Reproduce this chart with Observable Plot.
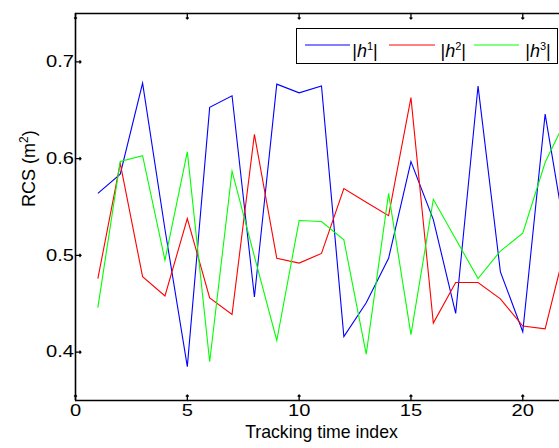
<!DOCTYPE html>
<html>
<head>
<meta charset="utf-8">
<script src="https://cdn.jsdelivr.net/npm/d3@7"></script>
<script src="https://cdn.jsdelivr.net/npm/@observablehq/plot@0.6"></script>
<style>
  html, body { margin: 0; padding: 0; background: #fff; overflow: hidden; width: 559px; height: 448px; }
  #wrap { position: relative; width: 559px; height: 448px; overflow: hidden; }
  #wrap svg { position: absolute; left: 0; top: 0; }
  .legend { position: absolute; left: 295.5px; top: 28px; width: 262px; height: 35.5px; box-sizing: border-box;
            border: 1.5px solid #000; background: #fff; font-family: "Liberation Sans", Arial, sans-serif; font-size: 18px; color: #000; }
  .legend .ln { position: absolute; top: 15.2px; height: 2px; }
  .legend .lb { position: absolute; top: 13.4px; line-height: 18px; white-space: nowrap; }
  .legend .lb sup { font-size: 11px; vertical-align: 7px; line-height: 0; }
</style>
</head>
<body>
<div id="wrap"></div>
<script>
// ---- data ----
const trackIndex = [1, 2, 3, 4, 5, 6, 7, 8, 9, 10, 11, 12, 13, 14, 15, 16, 17, 18, 19, 20, 21, 22];
const h1 = [0.564, 0.584, 0.678, 0.527, 0.385, 0.653, 0.665, 0.457, 0.677, 0.668, 0.675, 0.416, 0.451, 0.497, 0.597, 0.537, 0.440, 0.675, 0.483, 0.421, 0.646, 0.508];
const h2 = [0.476, 0.595, 0.478, 0.458, 0.538, 0.456, 0.439, 0.625, 0.497, 0.492, 0.502, 0.569, 0.555, 0.541, 0.663, 0.430, 0.472, 0.472, 0.455, 0.427, 0.424, 0.517];
const h3 = [0.446, 0.597, 0.603, 0.495, 0.607, 0.390, 0.587, 0.499, 0.412, 0.536, 0.535, 0.516, 0.398, 0.564, 0.418, 0.558, 0.517, 0.476, 0.5045, 0.523, 0.596, 0.644];
const seriesNames = ["h1", "h2", "h3"];
const seriesColors = ["#0000ff", "#ff0000", "#00ff00"];
const xTicks = [0, 5, 10, 15, 20];
const yTicks = [0.4, 0.5, 0.6, 0.7];
const yTickLabels = ["0.4", "0.5", "0.6", "0.7"];
const xLabel = "Tracking time index";
const yLabel = "RCS (m2)";

const seriesValues = [h1, h2, h3];
const lineMarks = seriesValues.map((vals, k) =>
  Plot.line(trackIndex.map((t, i) => ({t, v: vals[i]})), {
    x: "t", y: "v", stroke: seriesColors[k], strokeWidth: 1.1,
    strokeLinejoin: "miter", strokeMiterlimit: 6, strokeLinecap: "butt"
  })
);

const chart = Plot.plot({
  width: 610, height: 448,
  marginLeft: 75, marginRight: 43, marginTop: 13, marginBottom: 48,
  style: "max-width:none;background:white;font-family:'Liberation Sans',Arial,sans-serif;overflow:hidden;",
  x: {domain: [0, 22], axis: null},
  y: {domain: [0.35, 0.75], axis: null},
  marks: [
    ...lineMarks,
    Plot.ruleY([0.35, 0.75], {stroke: "#000", strokeWidth: 1.6}),
    Plot.ruleX([0], {stroke: "#000", strokeWidth: 1.6}),
    Plot.vector(xTicks, {x: d => d, y: () => 0.35, rotate: 0, length: 5.5, anchor: "start", stroke: "#000", strokeWidth: 1.3}),
    Plot.vector(xTicks, {x: d => d, y: () => 0.75, rotate: 180, length: 5.5, anchor: "start", stroke: "#000", strokeWidth: 1.3}),
    Plot.vector(yTicks, {x: () => 0, y: d => d, rotate: 90, length: 5.5, anchor: "start", stroke: "#000", strokeWidth: 1.3}),
    Plot.text(xTicks, {x: d => d, text: d => String(d), frameAnchor: "bottom", dy: 15, fontSize: 16.5, fill: "#000"}),
    Plot.text(yTicks, {y: d => d, text: (d, i) => yTickLabels[i], frameAnchor: "left", textAnchor: "end", dx: -1.5, fontSize: 16.5, fill: "#000"}),
    Plot.text([xLabel], {text: d => d, frameAnchor: "bottom", dy: 37, fontSize: 17.7, fill: "#000"}),
    Plot.text([yLabel], {text: d => d, frameAnchor: "left", dx: -46, rotate: -90, fontSize: 18, fill: "#000"})
  ]
});

const tickLabelSet = new Set([...xTicks.map(String), ...yTickLabels]);
const SVGNS = "http://www.w3.org/2000/svg";
chart.querySelectorAll("text").forEach(t => {
  const s = t.textContent;
  if (tickLabelSet.has(s)) {
    // widen tick-label glyphs horizontally, as in the reference
    const tr = t.getAttribute("transform");
    if (tr) t.setAttribute("transform", tr + " scale(1.22,1)");
    else {
      const x = +t.getAttribute("x") || 0, y = +t.getAttribute("y") || 0;
      t.removeAttribute("x"); t.removeAttribute("y");
      t.setAttribute("transform", `translate(${x},${y}) scale(1.22,1)`);
    }
  } else if (s === yLabel) {
    // render the "2" of m2 as a superscript
    t.textContent = "";
    [["RCS (m", null, null], ["2", "-7", "12"], [")", "7", null]].forEach(([str, dy, fs]) => {
      const ts = document.createElementNS(SVGNS, "tspan");
      ts.textContent = str;
      if (dy) ts.setAttribute("dy", dy);
      if (fs) ts.setAttribute("font-size", fs);
      t.appendChild(ts);
    });
  }
});

const wrap = document.getElementById("wrap");
wrap.appendChild(chart);

// legend (MATLAB-style box in the upper right)
const legendItems = [
  {name: seriesNames[0], sup: "1", color: "#8080ff", lineLeft: 8.3, lineWidth: 45.4, labelLeft: 55.7},
  {name: seriesNames[1], sup: "2", color: "#ff8080", lineLeft: 92.3, lineWidth: 46, labelLeft: 144},
  {name: seriesNames[2], sup: "3", color: "#80ff80", lineLeft: 177.3, lineWidth: 45.7, labelLeft: 228.7}
];
const legend = document.createElement("div");
legend.className = "legend";
legendItems.forEach(it => {
  const ln = document.createElement("div");
  ln.className = "ln";
  ln.style.left = it.lineLeft + "px";
  ln.style.width = it.lineWidth + "px";
  ln.style.background = it.color;
  legend.appendChild(ln);
  const lb = document.createElement("span");
  lb.className = "lb";
  lb.style.left = it.labelLeft + "px";
  lb.innerHTML = "|<i>h</i><sup>" + it.sup + "</sup>|";
  legend.appendChild(lb);
});
wrap.appendChild(legend);
</script>
</body>
</html>
